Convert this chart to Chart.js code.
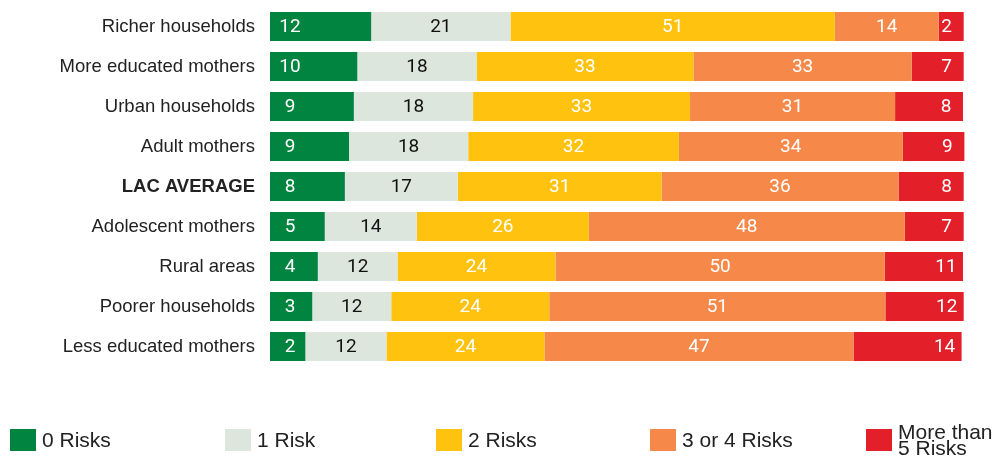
<!DOCTYPE html>
<html>
<head>
<meta charset="utf-8">
<script src="https://cdn.jsdelivr.net/npm/chart.js@4.4.1/dist/chart.umd.min.js"></script>
<style>
    html, body { margin: 0; padding: 0; background: #fff; }
    #wrap { position: relative; width: 1002px; height: 458px; }
    #legend { position: absolute; left: 0; top: 0; width: 1002px; height: 458px; pointer-events: none; }
    .leg-item { position: absolute; top: 440px; transform: translateY(-50%); display: flex; align-items: center;
        font-family: "Liberation Sans", Arial, sans-serif; font-size: 21px; color: #222; line-height: 16px; }
    .leg-box { width: 26px; height: 22px; margin-right: 6px; flex: none; }
</style>
</head>
<body>
<div id="wrap">
    <canvas id="riskChart" width="1002" height="458"></canvas>
    <div id="legend"></div>
</div>
<script>
// Catégories (de haut en bas)
const categories = ['Richer households', 'More educated mothers', 'Urban households', 'Adult mothers',
    'LAC AVERAGE', 'Adolescent mothers', 'Rural areas', 'Poorer households', 'Less educated mothers'];

const seriesNames = ['0 Risks', '1 Risk', '2 Risks', '3 or 4 Risks', 'More than 5 Risks'];
const seriesColors = ['#00843f', '#dde6dd', '#fec20f', '#f6894a', '#e3202a'];

// Valeurs imprimées dans les barres
const risk0 = [12, 10, 9, 9, 8, 5, 4, 3, 2];
const risk1 = [21, 18, 18, 18, 17, 14, 12, 12, 12];
const risk2 = [51, 33, 33, 32, 31, 26, 24, 24, 24];
const risk34 = [14, 33, 31, 34, 36, 48, 50, 51, 47];
const risk5 = [2, 7, 8, 9, 8, 7, 11, 12, 14];

// Longueurs des segments telles que dessinées (elles ne suivent pas exactement les chiffres)
const len0 = [14.6, 12.6, 12.1, 11.4, 10.8, 7.9, 6.9, 6.1, 5.1];
const len1 = [20.1, 17.2, 17.2, 17.2, 16.3, 13.3, 11.5, 11.4, 11.7];
const len2 = [46.8, 31.3, 31.3, 30.4, 29.4, 24.8, 22.8, 22.8, 22.8];
const len34 = [15.0, 31.5, 29.6, 32.3, 34.2, 45.6, 47.5, 48.5, 44.6];
const len5 = [3.6, 7.5, 9.8, 8.9, 9.4, 8.5, 11.3, 11.3, 15.6];

const printed = [risk0, risk1, risk2, risk34, risk5];
const lengths = [len0, len1, len2, len34, len5];

// --- étiquettes dans les barres ---
const barLabels = {
    id: 'barLabels',
    afterDatasetsDraw(chart) {
        const ctx = chart.ctx;
        ctx.save();
        ctx.font = '19px Roboto, "Liberation Sans", sans-serif';
        ctx.textAlign = 'center';
        ctx.textBaseline = 'middle';
        chart.data.datasets.forEach((ds, di) => {
            const meta = chart.getDatasetMeta(di);
            meta.data.forEach((bar, i) => {
                let x = (bar.x + bar.base) / 2;
                if (di === 0) x = bar.base + 20;
                if (di === 4) x = bar.x - 17;
                ctx.fillStyle = di === 1 ? '#111' : '#fff';
                ctx.fillText(String(printed[di][i]), x, bar.y + 1);
            });
        });
        ctx.restore();
    }
};

document.addEventListener('DOMContentLoaded', () => {
    const ctx = document.getElementById('riskChart').getContext('2d');
    new Chart(ctx, {
        type: 'bar',
        data: {
            labels: categories,
            datasets: seriesNames.map((name, i) => ({
                label: name,
                data: lengths[i],
                backgroundColor: seriesColors[i],
                borderWidth: 0,
                categoryPercentage: 1,
                barPercentage: 0.725,
                clip: false
            }))
        },
        options: {
            indexAxis: 'y',
            responsive: false,
            animation: false,
            layout: { padding: { left: 0, right: 39, top: 6.5, bottom: 91.5 } },
            plugins: {
                legend: { display: false },
                tooltip: { enabled: false }
            },
            scales: {
                x: { stacked: true, min: 0, max: 100, display: false },
                y: {
                    stacked: true,
                    grid: { display: false, drawTicks: false },
                    border: { display: false },
                    afterFit: (scale) => { scale.width = 270; scale.paddingTop = 0; scale.paddingBottom = 0; },
                    ticks: {
                        padding: 15,
                        color: '#222',
                        font: (c) => ({
                            family: '"Liberation Sans", Arial, sans-serif',
                            size: 18.5,
                            weight: c.tick && c.tick.label === 'LAC AVERAGE' ? 'bold' : 'normal'
                        })
                    }
                }
            }
        },
        plugins: [barLabels]
    });

    // Légende HTML
    const legend = document.getElementById('legend');
    const legendX = [10, 225, 436, 650, 866];
    seriesNames.forEach((name, i) => {
        const item = document.createElement('div');
        item.className = 'leg-item';
        item.style.left = legendX[i] + 'px';
        item.innerHTML = `<div class="leg-box" style="background:${seriesColors[i]}"></div><span></span>`;
        item.children[1].textContent = name;
        legend.appendChild(item);
    });
});
</script>
</body>
</html>
